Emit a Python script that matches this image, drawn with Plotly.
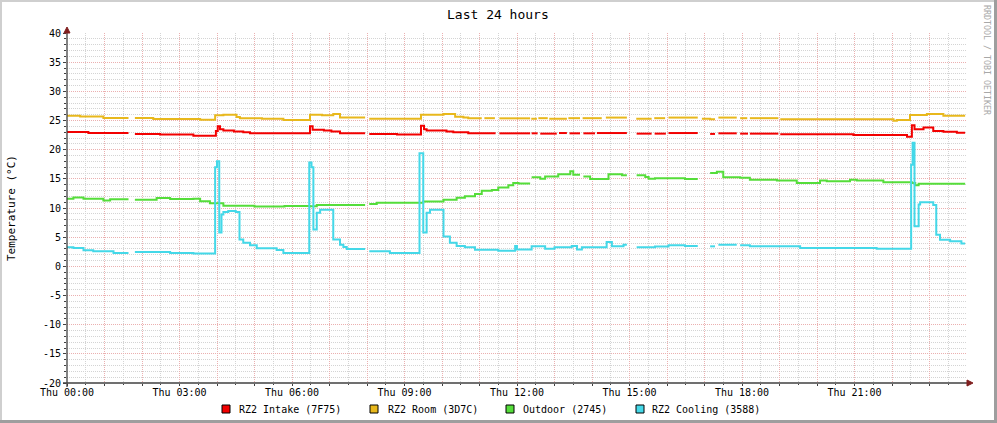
import plotly.graph_objects as go

# ---------------- data (hours since Thu 00:00, degrees C; None = no data) ----
intake_t = [
    0.00, 0.57, 1.64, 1.64, 1.81, 2.48, 3.37, 3.97, 4.02, 4.08,
    4.17, 4.45, 4.70, 4.88, 6.48, 6.55, 6.85, 7.05, 7.28, 7.95,
    7.95, 8.06, 8.80, 9.44, 9.52, 9.59, 10.12, 10.30, 10.70, 11.43,
    11.43, 11.53, 12.35, 12.35, 12.39, 12.55, 12.55, 12.62, 13.06, 13.06,
    13.12, 13.33, 13.33, 13.40, 13.68, 13.68, 13.77, 14.08, 14.08, 14.13,
    14.93, 14.93, 15.19, 15.59, 15.59, 15.67, 15.97, 15.97, 16.04, 16.82,
    16.82, 17.15, 17.28, 17.28, 17.37, 17.86, 17.86, 17.95, 18.16, 18.16,
    18.21, 18.97, 18.97, 19.02, 20.97, 22.40, 22.53, 22.60, 22.84, 23.10,
    23.37, 23.73, 23.95]
intake_v = [
    23.03, 22.86, 22.86, None, 22.69, 22.60, 22.40, 23.20, 24.00, 23.50,
    23.30, 23.10, 23.00, 22.80, 24.00, 23.40, 23.30, 23.10, 22.80, 22.80,
    None, 22.70, 22.60, 24.10, 23.50, 23.30, 23.10, 23.00, 22.80, 22.80,
    None, 22.80, 22.80, None, 22.80, 22.80, None, 22.75, 22.75, None,
    22.85, 22.85, None, 22.80, 22.80, None, 22.80, 22.80, None, 22.85,
    22.85, None, 22.75, 22.75, None, 22.75, 22.75, None, 22.85, 22.85,
    None, 22.70, 22.70, None, 22.80, 22.80, None, 22.75, 22.75, None,
    22.75, 22.75, None, 22.65, 22.50, 22.20, 24.20, 23.50, 23.80, 23.20,
    23.05, 22.90, 22.90]

room_t = [
    0.00, 0.35, 0.97, 1.64, 1.64, 1.81, 2.30, 3.55, 3.95, 4.17,
    4.52, 4.61, 5.20, 5.77, 6.48, 6.80, 7.10, 7.28, 7.95, 7.95,
    8.06, 9.44, 10.04, 10.35, 10.57, 10.70, 11.06, 11.06, 11.13, 11.41,
    11.41, 11.53, 12.35, 12.35, 12.38, 12.53, 12.53, 12.57, 12.82, 12.82,
    12.86, 13.33, 13.33, 13.37, 13.68, 13.68, 13.75, 14.26, 14.26, 14.37,
    14.93, 14.93, 15.18, 15.59, 15.59, 15.66, 15.95, 15.95, 16.04, 16.82,
    16.82, 16.93, 17.15, 17.28, 17.28, 17.37, 17.86, 17.86, 17.95, 18.14,
    18.14, 18.21, 18.97, 18.97, 19.02, 22.04, 22.13, 22.48, 22.93, 23.37,
    23.95]
room_v = [
    25.83, 25.70, 25.43, 25.43, None, 25.43, 25.26, 25.14, 25.90, 26.00,
    25.60, 25.40, 25.30, 25.10, 26.00, 25.90, 26.10, 25.50, 25.50, None,
    25.30, 26.00, 26.10, 25.66, 25.50, 25.37, 25.37, None, 25.40, 25.40,
    None, 25.37, 25.37, None, 25.30, 25.30, None, 25.40, 25.40, None,
    25.30, 25.30, None, 25.40, 25.40, None, 25.40, 25.40, None, 25.50,
    25.50, None, 25.30, 25.30, None, 25.40, 25.40, None, 25.50, 25.50,
    None, 25.30, 25.20, 25.20, None, 25.50, 25.50, None, 25.40, 25.40,
    None, 25.40, 25.40, None, 25.20, 24.95, 25.10, 25.95, 26.10, 25.80,
    25.80]

outdoor_t = [
    0.00, 0.17, 0.44, 0.97, 1.15, 1.64, 1.64, 1.81, 2.39, 2.75,
    3.37, 3.55, 3.81, 4.17, 5.00, 5.80, 6.48, 6.66, 7.95, 7.95,
    8.06, 8.26, 9.50, 10.04, 10.39, 10.61, 10.88, 11.06, 11.33, 11.50,
    11.77, 11.90, 12.04, 12.35, 12.35, 12.39, 12.62, 12.75, 13.10, 13.42,
    13.50, 13.68, 13.68, 13.77, 13.95, 14.44, 14.80, 14.93, 14.93, 15.19,
    15.42, 15.51, 15.68, 16.04, 16.48, 16.82, 16.82, 17.15, 17.33, 17.50,
    17.95, 18.21, 18.93, 19.46, 20.08, 20.26, 20.88, 21.06, 21.77, 22.53,
    22.62, 22.71, 23.95]
outdoor_v = [
    11.60, 11.80, 11.60, 11.30, 11.50, 11.50, None, 11.43, 11.70, 11.55,
    11.60, 11.14, 10.80, 10.40, 10.25, 10.35, 10.30, 10.50, 10.50, None,
    10.70, 10.90, 11.10, 11.40, 11.75, 12.00, 12.40, 12.97, 13.10, 13.50,
    13.90, 14.30, 14.20, 14.20, None, 15.26, 15.00, 15.40, 15.80, 16.30,
    15.70, 15.70, None, 15.40, 14.97, 15.80, 15.60, 15.60, None, 15.60,
    15.30, 15.00, 15.10, 15.10, 14.97, 14.97, None, 16.00, 16.20, 15.26,
    15.20, 14.86, 14.70, 14.30, 14.70, 14.57, 14.86, 14.70, 14.40, 14.30,
    13.90, 14.17, 14.17]

cooling_t = [
    0.00, 0.17, 0.44, 0.70, 1.24, 1.64, 1.64, 1.81, 2.75, 3.37,
    3.95, 4.00, 4.06, 4.12, 4.17, 4.30, 4.50, 4.60, 4.70, 4.88,
    5.06, 5.59, 5.77, 6.46, 6.52, 6.57, 6.66, 6.75, 7.10, 7.28,
    7.37, 7.46, 7.95, 7.95, 8.06, 8.61, 9.40, 9.50, 9.59, 9.68,
    10.04, 10.21, 10.39, 10.61, 10.88, 11.50, 11.95, 12.00, 12.39, 12.75,
    13.00, 13.46, 13.60, 13.73, 14.39, 14.53, 14.84, 14.93, 14.93, 15.19,
    15.68, 16.04, 16.48, 16.82, 16.82, 17.15, 17.28, 17.28, 17.37, 17.86,
    17.86, 17.95, 18.21, 19.55, 21.59, 22.51, 22.55, 22.60, 22.71, 22.75,
    23.10, 23.18, 23.28, 23.55, 23.85, 23.95]
cooling_v = [
    3.26, 3.15, 2.74, 2.57, 2.30, 2.30, None, 2.46, 2.30, 2.20,
    17.00, 18.00, 5.80, 8.90, 9.30, 9.50, 9.30, 4.60, 4.05, 3.60,
    3.10, 2.80, 2.30, 17.80, 17.00, 6.30, 9.20, 9.70, 4.60, 3.70,
    3.30, 2.97, 2.97, None, 2.57, 2.30, 19.40, 5.80, 9.20, 9.70,
    5.10, 4.05, 3.50, 3.26, 2.86, 2.69, 3.50, 2.90, 3.43, 3.00,
    3.26, 3.50, 2.90, 3.26, 4.17, 3.43, 3.70, 3.70, None, 3.26,
    3.40, 3.60, 3.50, 3.50, None, 3.43, 3.43, None, 3.70, 3.70,
    None, 3.60, 3.43, 3.14, 3.03, 17.40, 21.20, 6.86, 10.60, 11.00,
    10.50, 5.40, 4.57, 4.29, 3.90, 3.90]

series_names = ["RZ2 Intake (7F75)", "RZ2 Room (3D7C)", "Outdoor (2745)", "RZ2 Cooling (3588)"]
series_colors = ["#F20000", "#E8B81C", "#55DD3A", "#44D8E8"]

x_tick_hours = list(range(0, 25))
x_tick_labels = ["Thu 00:00", "", "", "Thu 03:00", "", "", "Thu 06:00", "", "",
                 "Thu 09:00", "", "", "Thu 12:00", "", "", "Thu 15:00", "", "",
                 "Thu 18:00", "", "", "Thu 21:00", "", "", ""]
y_tick_vals = [-20, -15, -10, -5, 0, 5, 10, 15, 20, 25, 30, 35, 40]
y_tick_labels = [str(v) for v in y_tick_vals]

for a, b in [(intake_t, intake_v), (room_t, room_v), (outdoor_t, outdoor_v), (cooling_t, cooling_v)]:
    assert len(a) == len(b), (len(a), len(b))

# ---------------- layout geometry (pixels) ----------------
W, H = 997, 423
L, R, T, B = 67, 967, 33, 383
FONT = "DejaVu Sans Mono"
MAJOR = "#EBB0B0"
MINOR = "#D4D4D4"
AXIS = "#404040"
ARROW = "#801F1F"


def px(x):
    return (x - L) / (R - L)


def py(y):
    return (B - y) / (B - T)


fig = go.Figure()
series = [(intake_t, intake_v), (room_t, room_v), (outdoor_t, outdoor_v), (cooling_t, cooling_v)]
for (t, v), name, col in zip(series, series_names, series_colors):
    fig.add_trace(go.Scatter(x=t, y=v, mode="lines", name=name, showlegend=False,
                             connectgaps=False,
                             line=dict(color=col, width=2, shape="hv"),
                             hoverinfo="skip"))

shapes = []
# outer frame shading
shapes += [
    dict(type="rect", xref="paper", yref="paper", x0=px(0), x1=px(W), y0=py(0), y1=py(2),
         fillcolor="#CFCFCF", line_width=0, layer="below"),
    dict(type="rect", xref="paper", yref="paper", x0=px(0), x1=px(2), y0=py(0), y1=py(H),
         fillcolor="#CFCFCF", line_width=0, layer="below"),
    dict(type="rect", xref="paper", yref="paper", x0=px(0), x1=px(W), y0=py(H - 3), y1=py(H),
         fillcolor="#9E9E9E", line_width=0, layer="below"),
    dict(type="rect", xref="paper", yref="paper", x0=px(W - 3), x1=px(W), y0=py(0), y1=py(H),
         fillcolor="#9E9E9E", line_width=0, layer="below"),
]
# axes with arrows
shapes += [
    dict(type="line", xref="paper", yref="paper", x0=px(L), x1=px(L), y0=py(B + 4), y1=py(T - 2),
         line=dict(color=AXIS, width=1.3)),
    dict(type="line", xref="paper", yref="paper", x0=px(L - 4), x1=px(R + 2), y0=py(B), y1=py(B),
         line=dict(color=AXIS, width=1.3)),
    dict(type="path", xref="paper", yref="paper",
         path=f"M {px(L-3)},{py(T)} L {px(L+3)},{py(T)} L {px(L)},{py(T-6)} Z",
         fillcolor=ARROW, line=dict(color=ARROW, width=1)),
    dict(type="path", xref="paper", yref="paper",
         path=f"M {px(R)},{py(B-3)} L {px(R)},{py(B+3)} L {px(R+6)},{py(B)} Z",
         fillcolor=ARROW, line=dict(color=ARROW, width=1)),
]

annotations = [
    dict(text="Last 24 hours", xref="paper", yref="paper", x=px(498), y=py(14),
         xanchor="center", yanchor="middle", showarrow=False,
         font=dict(family=FONT, size=13, color="#000000")),
    dict(text="Temperature (°C)", xref="paper", yref="paper", x=px(11), y=py(208),
         xanchor="center", yanchor="middle", showarrow=False, textangle=-90,
         font=dict(family=FONT, size=11, color="#000000")),
    dict(text="RRDTOOL / TOBI OETIKER", xref="paper", yref="paper", x=px(987), y=py(60),
         xanchor="center", yanchor="middle", showarrow=False, textangle=90,
         font=dict(family=FONT, size=8.3, color="#A8A8A8")),
]

# legend (rrdtool style boxes)
leg_box_x = [222, 370, 506, 636]
leg_text_x = [237, 386, 521, 650]
leg_y = 409
for name, col, bx, tx in zip(series_names, series_colors, leg_box_x, leg_text_x):
    shapes.append(dict(type="rect", xref="paper", yref="paper",
                       x0=px(bx), x1=px(bx + 8), y0=py(leg_y + 4), y1=py(leg_y - 4),
                       fillcolor=col, line=dict(color="#000000", width=1)))
    annotations.append(dict(text=name, xref="paper", yref="paper", x=px(tx), y=py(leg_y),
                            xanchor="left", yanchor="middle", showarrow=False,
                            font=dict(family=FONT, size=10, color="#000000")))

fig.update_layout(
    width=W, height=H, autosize=False,
    margin=dict(l=L, r=W - R, t=T, b=H - B, pad=0),
    paper_bgcolor="#FFFFFF", plot_bgcolor="#FFFFFF",
    font=dict(family=FONT, size=10, color="#000000"),
    showlegend=False,
    shapes=shapes, annotations=annotations,
    xaxis=dict(range=[0, 24], tickmode="array", tickvals=x_tick_hours, ticktext=x_tick_labels,
               showgrid=True, gridcolor=MAJOR, gridwidth=1, griddash="1px,1px",
               zeroline=False, showline=False, ticks="outside", ticklen=2, tickcolor=AXIS,
               ticklabelstandoff=-2,
               tickfont=dict(family=FONT, size=10, color="#000000"),
               minor=dict(tickmode="linear", tick0=0, dtick=0.5, showgrid=True,
                          gridcolor=MINOR, gridwidth=1, griddash="1px,1px",
                          ticks="outside", ticklen=1, tickcolor=AXIS),
               fixedrange=True),
    yaxis=dict(range=[-20, 40], tickmode="array", tickvals=y_tick_vals, ticktext=y_tick_labels,
               showgrid=True, gridcolor=MAJOR, gridwidth=1, griddash="1px,1px",
               zeroline=False, showline=False, ticks="outside", ticklen=3, tickcolor=AXIS,
               tickfont=dict(family=FONT, size=10, color="#000000"),
               minor=dict(tickmode="linear", tick0=0, dtick=1, showgrid=True,
                          gridcolor=MINOR, gridwidth=1, griddash="1px,1px",
                          ticks="outside", ticklen=2, tickcolor=AXIS),
               fixedrange=True),
)

fig.write_html("out.html", config={"displayModeBar": False},
               post_script="document.body.style.margin='0';document.body.style.overflow='hidden';")
